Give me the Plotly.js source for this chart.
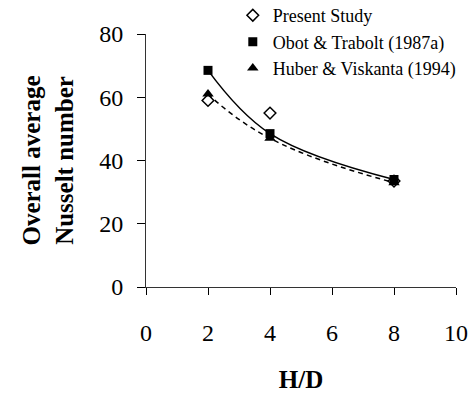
<!DOCTYPE html>
<html>
<head>
<meta charset="utf-8">
<script src="https://cdn.plot.ly/plotly-3.0.1.min.js"></script>
<style>
  html, body { margin: 0; padding: 0; background: #fff; }
  #chart { width: 472px; height: 402px; }
</style>
</head>
<body>
<div id="chart"></div>
<script>
// H/D spacing ratios
const hd = [2, 4, 8];

// Overall average Nusselt number for each data set
const presentStudy = [59, 55, 33.5];
const obotTrabolt = [68.5, 48.5, 34];
const huberViskanta = [61, 47, 33];

const seriesNames = ['Present Study', 'Obot & Trabolt (1987a)', 'Huber & Viskanta (1994)'];

const xTicks = [0, 2, 4, 6, 8, 10];
const yTicks = [0, 20, 40, 60, 80];

const serif = "'Liberation Serif', 'Times New Roman', Times, serif";

const traces = [
  // smoothed curves (no legend entries)
  {
    x: hd, y: obotTrabolt, mode: 'lines', showlegend: false, hoverinfo: 'skip',
    line: { color: '#000', width: 1.5, shape: 'spline', smoothing: 1.1 }
  },
  {
    x: hd, y: huberViskanta, mode: 'lines', showlegend: false, hoverinfo: 'skip',
    line: { color: '#000', width: 1.5, dash: '5px,4px', shape: 'spline', smoothing: 1.3 }
  },
  // data points
  {
    x: hd, y: presentStudy, mode: 'markers', name: seriesNames[0], legendgroup: 'a',
    marker: { symbol: 'diamond-open', size: 9, color: '#000', line: { width: 1.5, color: '#000' } }
  },
  {
    x: hd, y: obotTrabolt, mode: 'markers', name: seriesNames[1], legendgroup: 'b',
    marker: { symbol: 'square', size: 9, color: '#000' }
  },
  {
    x: hd, y: huberViskanta, mode: 'markers', name: seriesNames[2], legendgroup: 'c',
    marker: { symbol: 'triangle-up', size: 10, color: '#000' }
  }
];

const layout = {
  width: 472,
  height: 402,
  margin: { l: 146, r: 16, t: 34, b: 114.5, pad: 0, autoexpand: false },
  paper_bgcolor: '#fff',
  plot_bgcolor: '#fff',
  font: { family: serif, color: '#000', size: 20 },
  showlegend: true,
  legend: {
    x: 0.28, y: 1.146, xanchor: 'left', yanchor: 'top',
    font: { family: serif, size: 18, color: '#000' },
    bgcolor: 'rgba(0,0,0,0)',
    itemwidth: 30,
    tracegroupgap: 0,
    traceorder: 'grouped'
  },
  xaxis: {
    range: [0, 10],
    tickvals: xTicks,
    ticktext: xTicks.map(String),
    ticks: 'outside', ticklen: 7, tickcolor: '#000', tickwidth: 1,
    ticklabelstandoff: 17,
    showline: true, linecolor: '#333', linewidth: 1,
    showgrid: false, zeroline: false,
    tickfont: { family: serif, size: 24 },
    title: { text: '<b>H/D</b>', font: { family: serif, size: 25 }, standoff: 25 }
  },
  yaxis: {
    range: [0, 80],
    tickvals: yTicks,
    ticktext: yTicks.map(String),
    ticks: 'outside', ticklen: 8, tickcolor: '#000', tickwidth: 1,
    ticklabelstandoff: 9,
    showline: true, linecolor: '#333', linewidth: 1,
    showgrid: false, zeroline: false,
    tickfont: { family: serif, size: 24 },
    title: { text: '<b>Overall average<br>Nusselt number</b>', font: { family: serif, size: 25 }, standoff: 18 }
  }
};

Plotly.newPlot('chart', traces, layout, { displayModeBar: false, staticPlot: true });
</script>
</body>
</html>
